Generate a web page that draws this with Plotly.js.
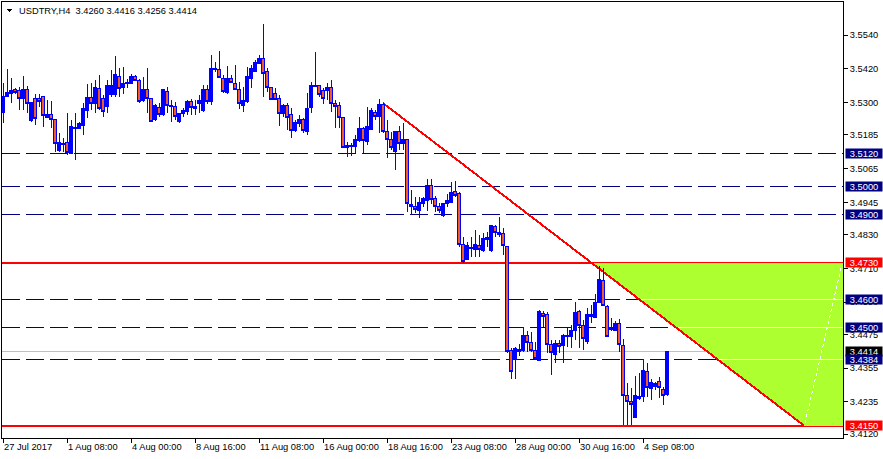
<!DOCTYPE html>
<html><head><meta charset="utf-8">
<script src="https://cdn.plot.ly/plotly-3.0.1.min.js"></script>
<style>
html,body{margin:0;padding:0;background:#fff}
#chart{width:883px;height:459px}
#chart .shapelayer path{shape-rendering:crispEdges}
#chart .boxlayer path{shape-rendering:crispEdges}
#chart .xtick, #chart .ytick{shape-rendering:crispEdges}
</style>
</head><body><div id="chart"></div>
<script>
const symbol = "USDTRY,H4";
const barOpen = [3.5263,3.5321,3.5333,3.5347,3.5342,3.5313,3.5347,3.5235,3.5313,3.5313,
3.5321,3.5247,3.5259,3.5241,3.5131,3.5149,3.5158,3.5119,3.5207,3.5209,
3.5220,3.5273,3.5317,3.5295,3.5351,3.5315,3.5285,3.5327,3.5327,3.5394,
3.5353,3.5368,3.5368,3.5394,3.5380,3.5309,3.5345,3.5315,3.5240,3.5283,
3.5256,3.5341,3.5285,3.5285,3.5232,3.5262,3.5267,3.5305,3.5279,3.5297,
3.5273,3.5347,3.5303,3.5422,3.5416,3.5386,3.5335,3.5386,3.5368,3.5345,
3.5290,3.5303,3.5385,3.5412,3.5440,3.5457,3.5412,3.5354,3.5333,3.5313,
3.5262,3.5288,3.5256,3.5199,3.5224,3.5238,3.5196,3.5283,3.5356,3.5359,
3.5342,3.5342,3.5354,3.5295,3.5288,3.5246,3.5141,3.5143,3.5143,3.5164,
3.5207,3.5161,3.5205,3.5266,3.5250,3.5294,3.5196,3.5167,3.5125,3.5196,
3.5155,3.5167,3.4929,3.4929,3.4915,3.4939,3.4950,3.5003,3.4959,3.4929,
3.4897,3.4939,3.4943,3.4985,3.4977,3.4796,3.4742,3.4779,3.4778,3.4793,
3.4773,3.4819,3.4773,3.4858,3.4832,3.4835,3.4789,3.4419,3.4384,3.4423,
3.4419,3.4472,3.4445,3.4419,3.4383,3.4550,3.4544,3.4440,3.4405,3.4443,
3.4437,3.4469,3.4466,3.4488,3.4555,3.4508,3.4449,3.4538,3.4535,3.4587,
3.4665,3.4576,3.4493,3.4490,3.4512,3.4437,3.4259,3.4237,3.4179,3.4247,
3.4253,3.4344,3.4283,3.4291,3.4309,3.4280,3.4260];
const barHigh = [3.5370,3.5419,3.5388,3.5352,3.5354,3.5394,3.5359,3.5302,3.5329,3.5330,
3.5323,3.5309,3.5305,3.5243,3.5190,3.5173,3.5262,3.5238,3.5262,3.5232,
3.5297,3.5366,3.5368,3.5380,3.5398,3.5327,3.5380,3.5416,3.5466,3.5422,
3.5428,3.5385,3.5402,3.5398,3.5382,3.5392,3.5422,3.5317,3.5293,3.5297,
3.5347,3.5354,3.5309,3.5303,3.5264,3.5279,3.5309,3.5311,3.5309,3.5327,
3.5362,3.5362,3.5469,3.5445,3.5483,3.5398,3.5430,3.5398,3.5434,3.5374,
3.5356,3.5428,3.5434,3.5451,3.5469,3.5580,3.5422,3.5356,3.5351,3.5327,
3.5293,3.5297,3.5282,3.5238,3.5256,3.5244,3.5335,3.5374,3.5481,3.5361,
3.5351,3.5368,3.5380,3.5309,3.5303,3.5248,3.5161,3.5155,3.5184,3.5250,
3.5214,3.5285,3.5279,3.5273,3.5311,3.5300,3.5238,3.5196,3.5198,3.5217,
3.5227,3.5170,3.4989,3.4963,3.4963,3.4965,3.5027,3.5027,3.4967,3.4943,
3.4940,3.4974,3.5018,3.5022,3.4980,3.4822,3.4805,3.4822,3.4846,3.4828,
3.4837,3.4840,3.4862,3.4864,3.4894,3.4854,3.4791,3.4425,3.4431,3.4440,
3.4500,3.4488,3.4484,3.4449,3.4561,3.4559,3.4555,3.4455,3.4455,3.4455,
3.4476,3.4496,3.4508,3.4591,3.4561,3.4526,3.4568,3.4579,3.4620,3.4718,
3.4710,3.4579,3.4532,3.4523,3.4528,3.4457,3.4301,3.4283,3.4326,3.4336,
3.4389,3.4372,3.4315,3.4306,3.4324,3.4288,3.4416];
const barLow = [3.5227,3.5318,3.5297,3.5330,3.5273,3.5273,3.5262,3.5232,3.5220,3.5285,
3.5212,3.5245,3.5208,3.5125,3.5125,3.5125,3.5113,3.5117,3.5095,3.5207,
3.5184,3.5244,3.5273,3.5262,3.5273,3.5250,3.5262,3.5321,3.5321,3.5321,
3.5329,3.5350,3.5366,3.5376,3.5300,3.5303,3.5262,3.5230,3.5235,3.5250,
3.5252,3.5262,3.5232,3.5238,3.5228,3.5247,3.5256,3.5256,3.5256,3.5262,
3.5267,3.5295,3.5291,3.5408,3.5386,3.5333,3.5330,3.5368,3.5345,3.5276,
3.5267,3.5297,3.5351,3.5410,3.5438,3.5321,3.5339,3.5309,3.5309,3.5216,
3.5247,3.5202,3.5173,3.5196,3.5214,3.5190,3.5184,3.5264,3.5354,3.5321,
3.5295,3.5309,3.5267,3.5208,3.5208,3.5137,3.5107,3.5110,3.5119,3.5161,
3.5119,3.5149,3.5202,3.5238,3.5190,3.5190,3.5104,3.5131,3.5061,3.5131,
3.5131,3.4911,3.4900,3.4906,3.4890,3.4929,3.4915,3.4939,3.4911,3.4908,
3.4894,3.4929,3.4941,3.4965,3.4787,3.4728,3.4739,3.4751,3.4749,3.4751,
3.4769,3.4787,3.4769,3.4822,3.4822,3.4757,3.4408,3.4315,3.4318,3.4398,
3.4413,3.4413,3.4413,3.4383,3.4381,3.4500,3.4407,3.4330,3.4372,3.4407,
3.4372,3.4431,3.4425,3.4455,3.4425,3.4419,3.4440,3.4516,3.4532,3.4585,
3.4576,3.4464,3.4488,3.4488,3.4413,3.4152,3.4152,3.4152,3.4177,3.4241,
3.4235,3.4253,3.4243,3.4276,3.4247,3.4223,3.4256];
const barClose = [3.5323,3.5337,3.5342,3.5335,3.5314,3.5347,3.5297,3.5300,3.5244,3.5303,
3.5253,3.5259,3.5241,3.5155,3.5158,3.5155,3.5123,3.5214,3.5212,3.5226,
3.5279,3.5319,3.5295,3.5354,3.5279,3.5267,3.5359,3.5362,3.5398,3.5351,
3.5368,3.5372,3.5394,3.5380,3.5303,3.5347,3.5314,3.5232,3.5291,3.5256,
3.5345,3.5291,3.5291,3.5250,3.5262,3.5273,3.5303,3.5283,3.5285,3.5309,
3.5347,3.5303,3.5422,3.5416,3.5390,3.5339,3.5386,3.5371,3.5347,3.5295,
3.5309,3.5394,3.5422,3.5442,3.5457,3.5404,3.5354,3.5311,3.5311,3.5262,
3.5291,3.5247,3.5199,3.5230,3.5241,3.5202,3.5279,3.5359,3.5362,3.5329,
3.5315,3.5354,3.5297,3.5285,3.5247,3.5141,3.5146,3.5148,3.5169,3.5207,
3.5164,3.5216,3.5270,3.5250,3.5294,3.5196,3.5167,3.5141,3.5196,3.5155,
3.5169,3.4941,3.4938,3.4920,3.4945,3.4957,3.5003,3.4955,3.4929,3.4915,
3.4939,3.4953,3.4981,3.4968,3.4796,3.4733,3.4790,3.4785,3.4796,3.4778,
3.4817,3.4811,3.4861,3.4837,3.4837,3.4790,3.4413,3.4344,3.4425,3.4413,
3.4472,3.4445,3.4417,3.4389,3.4555,3.4538,3.4440,3.4409,3.4443,3.4431,
3.4472,3.4472,3.4488,3.4552,3.4508,3.4461,3.4544,3.4544,3.4587,3.4672,
3.4579,3.4466,3.4500,3.4512,3.4440,3.4259,3.4235,3.4227,3.4259,3.4255,
3.4348,3.4287,3.4304,3.4300,3.4286,3.4256,3.4414];
const barIndex = barOpen.map((_, i) => i);

const timeTickIndex = [0, 16, 32, 48, 64, 80, 96, 112, 128, 144, 160];
const timeTickLabels = ["27 Jul 2017", "1 Aug 08:00", "4 Aug 00:00", "8 Aug 16:00", "11 Aug 08:00",
  "16 Aug 00:00", "18 Aug 16:00", "23 Aug 08:00", "28 Aug 00:00", "30 Aug 16:00", "4 Sep 08:00"];
const priceTicks = [3.5540, 3.5420, 3.5300, 3.5185, 3.5065, 3.4945, 3.4830, 3.4710, 3.4590, 3.4475, 3.4355, 3.4235, 3.4120];

const dashedLevels = [3.5120, 3.5000, 3.4900, 3.4600, 3.4500, 3.4384];
const redLevels = [3.4730, 3.4150];
const lastPrice = 3.4414;
const trendX = [95, 200.3];
const trendY = [3.5298, 3.4150];
const rayX = [200.5, 209.7];
const rayY = [3.4159, 3.4722];

const NAVY = '#000080', RED = '#FF0000', GREEN = '#ADFF2F';
const FONT = '"Liberation Sans", Arial, sans-serif';
const FS = 9.3;
const n = barOpen.length;

function trendXAt(p) {
  return trendX[0] + (trendY[0] - p) / (trendY[0] - trendY[1]) * (trendX[1] - trendX[0]);
}

const shapes = [];
const zTop = redLevels[0], zBot = redLevels[1];
shapes.push({type:'path', layer:'below', xref:'x', yref:'y',
  path:`M ${trendXAt(zTop)},${zTop} L 230,${zTop} L 230,${zBot} L ${trendX[1]},${zBot} Z`,
  fillcolor:GREEN, line:{width:0}});
dashedLevels.filter(v => v < zTop && v > zBot).forEach(v => {
  shapes.push({type:'line', layer:'below', xref:'x', yref:'y', x0:trendXAt(v), x1:230, y0:v, y1:v,
    line:{color:'#FFFFFF', width:1}});
});
shapes.push({type:'line', layer:'below', xref:'x', yref:'y', x0:rayX[0], y0:rayY[0], x1:rayX[1], y1:rayY[1],
  line:{color:'#FFFFFF', width:1, dash:'dot'}});
dashedLevels.forEach(v => shapes.push({type:'line', layer:'below', xref:'paper', yref:'y', x0:0, x1:1, y0:v, y1:v,
  line:{color:NAVY, width:1, dash:'18px,6px'}}));
shapes.push({type:'line', layer:'below', xref:'paper', yref:'y', x0:0, x1:1, y0:lastPrice, y1:lastPrice,
  line:{color:'#C0C0C0', width:1}});
redLevels.forEach(v => shapes.push({type:'line', layer:'below', xref:'paper', yref:'y', x0:0, x1:1, y0:v, y1:v,
  line:{color:RED, width:2}}));
shapes.push({type:'line', layer:'below', xref:'x', yref:'y', x0:trendX[0], y0:trendY[0], x1:trendX[1], y1:trendY[1],
  line:{color:RED, width:2}});
shapes.push({type:'path', layer:'above', xref:'paper', yref:'paper',
  path:'M 0.0056,0.9833 L 0.0123,0.9833 L 0.0089,0.9764 Z', fillcolor:'#000', line:{width:0}});

const annotations = [];
const last = n - 1;
annotations.push({xref:'paper', yref:'paper', x:0.0190, y:0.9800, xanchor:'left', yanchor:'middle', showarrow:false,
  text:`${symbol}  ${barOpen[last].toFixed(4)} ${barHigh[last].toFixed(4)} ${barLow[last].toFixed(4)} ${barClose[last].toFixed(4)}`,
  font:{family:FONT, size:FS, color:'#000'}, borderpad:0});

function levelBox(v, bg) {
  return {xref:'paper', yref:'y', x:1, y:v, xanchor:'left', yanchor:'middle', xshift:2, showarrow:false,
    text:v.toFixed(4), bgcolor:bg, width:36, height:9, borderpad:0, align:'center',
    font:{family:FONT, size:FS, color:'#FFFFFF'}};
}
dashedLevels.filter(v => v !== 3.4384).forEach(v => annotations.push(levelBox(v, NAVY)));
annotations.push(levelBox(lastPrice, '#000000'));
dashedLevels.filter(v => v === 3.4384).forEach(v => annotations.push(levelBox(v, NAVY)));
redLevels.forEach(v => annotations.push(levelBox(v, RED)));

const trace = {
  type:'candlestick', x:barIndex, open:barOpen, high:barHigh, low:barLow, close:barClose,
  increasing:{line:{color:'#0000FF', width:1}, fillcolor:'#0000FF'},
  decreasing:{line:{color:'#0000FF', width:1}, fillcolor:'#F05A28'},
  whiskerwidth:0, hoverinfo:'skip', showlegend:false
};

const layout = {
  width:883, height:459,
  margin:{l:2, r:40, t:2, b:21, pad:0},
  paper_bgcolor:'#FFFFFF', plot_bgcolor:'#FFFFFF',
  showlegend:false, boxgap:0.45, boxgroupgap:0,
  font:{family:FONT, size:FS, color:'#000'},
  xaxis:{type:'linear', range:[-0.25, 210], showgrid:false, zeroline:false, showline:true, mirror:true,
    linecolor:'#000', linewidth:1, tickmode:'array', tickvals:timeTickIndex, ticktext:timeTickLabels,
    ticks:'outside', ticklen:4, tickcolor:'#000', ticklabelposition:'outside right', tickangle:0,
    rangeslider:{visible:false}, fixedrange:true, tickfont:{family:FONT, size:FS, color:'#000'}},
  yaxis:{range:[3.41063, 3.56577], side:'right', showgrid:false, zeroline:false, showline:true, mirror:true,
    linecolor:'#000', linewidth:1, tickmode:'array', tickvals:priceTicks, ticktext:priceTicks.map(v => v.toFixed(4)),
    ticks:'outside', ticklen:4, tickcolor:'#000', fixedrange:true, tickfont:{family:FONT, size:FS, color:'#000'}},
  shapes:shapes, annotations:annotations
};

Plotly.newPlot('chart', [trace], layout, {displayModeBar:false, staticPlot:true});
</script>
</body></html>
